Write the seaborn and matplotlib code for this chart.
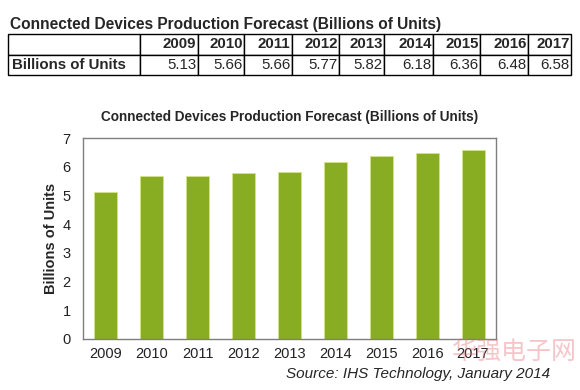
import numpy as np
import pandas as pd
import matplotlib as mpl
mpl.use("Agg")
import matplotlib.pyplot as plt
import seaborn as sns

years = ["2009", "2010", "2011", "2012", "2013", "2014", "2015", "2016", "2017"]
units = [5.13, 5.66, 5.66, 5.77, 5.82, 6.18, 6.36, 6.48, 6.58]
row_label = "Billions of Units"
title = "Connected Devices Production Forecast (Billions of Units)"
source = "Source: IHS Technology, January 2014"

sns.set_style("white")
plt.rcParams['font.family'] = ['Liberation Sans', 'DejaVu Sans']

df = pd.DataFrame({"year": years, "units": units})

W, H = 580, 390
fig = plt.figure(figsize=(W / 100, H / 100), dpi=100)

# table at the top
fig.text(10 / W, 1 - 24 / H, title, fontsize=11.2, fontweight="bold", va="center", ha="left")
tax = fig.add_axes([8 / W, 1 - 75 / H, 563 / W, 41 / H])
tax.axis("off")
edges = [8, 140, 198, 244, 292, 339, 384, 433, 480, 528, 571]
widths = list(np.diff(edges) / (edges[-1] - edges[0]))
cells = [[""] + years, [row_label] + [f"{v:.2f}" for v in units]]
tbl = tax.table(cellText=cells, colWidths=widths, bbox=[0, 0, 1, 1], cellLoc="right")
tbl.auto_set_font_size(False)
for (r, c), cell in tbl.get_celld().items():
    cell.set_edgecolor("black")
    cell.set_linewidth(1)
    cell.PAD = 0.03
    txt = cell.get_text()
    txt.set_fontsize(10.8)
    if r == 0 or c == 0:
        txt.set_fontweight("bold")
    if c == 0:
        cell.set_text_props(ha="left")
        cell._loc = "left"

# bar chart
ax = fig.add_axes([83 / W, 1 - 339 / H, 413 / W, 201 / H])
sns.barplot(data=df, x="year", y="units", color="#88ad22", saturation=1,
            width=0.5, edgecolor="#d4e48a", linewidth=0.6, ax=ax)
ax.set_ylim(0, 7)
ax.set_yticks(range(0, 8))
ax.set_xlabel("")
ax.set_ylabel(row_label, fontsize=10.5, fontweight="bold", labelpad=3)
ax.tick_params(axis="y", labelsize=10.5, length=0, pad=9, colors="#222222")
ax.tick_params(axis="x", labelsize=10.5, length=0, pad=6, colors="#222222")
for s in ax.spines.values():
    s.set_visible(True)
    s.set_color("#7f7f7f")
    s.set_linewidth(1)
ax.set_title(title, fontsize=9.8, fontweight="bold", pad=12)

fig.text(550 / W, 1 - 374 / H, source, fontsize=11, style="italic", ha="right", va="center")
fig.text(514 / W, 1 - 352 / H, "华强电子网", fontsize=18, color="#e8707a", alpha=0.4,
         ha="center", va="center", family=["Noto Sans CJK SC", "DejaVu Sans"])

fig.savefig("out.png", dpi=100)
